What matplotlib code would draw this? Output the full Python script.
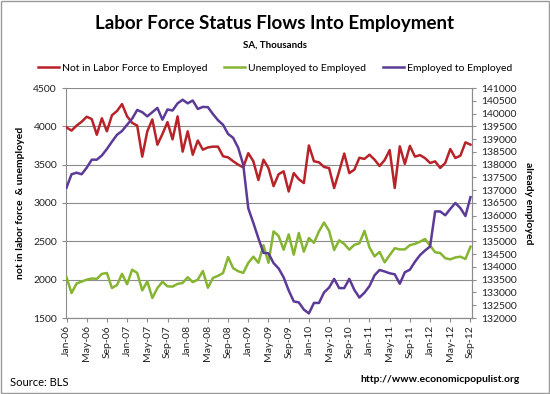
import matplotlib
matplotlib.use("Agg")
import matplotlib.pyplot as plt
from matplotlib.patches import Rectangle
import numpy as np

plt.rcParams['font.family'] = ['Lato', 'DejaVu Sans']

# Monthly, Jan-06 .. Sep-12 (81 months)
tick_labels = ['Jan-06', 'May-06', 'Sep-06', 'Jan-07', 'May-07', 'Sep-07', 'Jan-08',
               'May-08', 'Sep-08', 'Jan-09', 'May-09', 'Sep-09', 'Jan-10', 'May-10',
               'Sep-10', 'Jan-11', 'May-11', 'Sep-11', 'Jan-12', 'May-12', 'Sep-12']

not_in_lf = [3985, 3945, 4010, 4060, 4125, 4095, 3890, 4105, 3935, 4145,
             4200, 4290, 4130, 4045, 4010, 3605, 3935, 4090, 3760, 3900,
             4055, 3830, 4130, 3670, 3935, 3630, 3815, 3695, 3725, 3735,
             3735, 3610, 3595, 3545, 3500, 3465, 3650, 3545, 3300, 3565,
             3455, 3220, 3375, 3413, 3150, 3390, 3310, 3260, 3750, 3545,
             3530, 3470, 3455, 3195, 3415, 3645, 3390, 3435, 3590, 3575,
             3630, 3565, 3483, 3560, 3690, 3196, 3739, 3510, 3745, 3605,
             3625, 3585, 3522, 3543, 3457, 3522, 3704, 3587, 3617, 3791,
             3761]

unemployed = [2030, 1826, 1950, 1975, 2000, 2015, 2010, 2075, 2087, 1891,
              1930, 2076, 1940, 2130, 2087, 1860, 1978, 1761, 1891, 1972,
              1913, 1910, 1945, 1957, 2032, 1968, 2000, 2113, 1895, 2022,
              2050, 2087, 2295, 2150, 2110, 2088, 2220, 2300, 2220, 2450,
              2220, 2630, 2570, 2390, 2590, 2326, 2609, 2365, 2543, 2480,
              2630, 2745, 2637, 2387, 2513, 2465, 2391, 2455, 2474, 2637,
              2420, 2304, 2362, 2226, 2320, 2410, 2395, 2395, 2450, 2467,
              2495, 2530, 2445, 2357, 2348, 2280, 2265, 2290, 2300, 2270,
              2430]

employed = [137100, 137625, 137685, 137625, 137880, 138195, 138195, 138360, 138615, 138900,
            139170, 139320, 139560, 139800, 140140, 140055, 139890, 140055, 140220, 139760,
            140160, 140120, 140400, 140540, 140400, 140510, 140180, 140260, 140250, 139980,
            139740, 139560, 139200, 139050, 138660, 138000, 136290, 135720, 135120, 134550,
            134530, 134150, 133940, 133590, 133080, 132650, 132610, 132330, 132180, 132590,
            132590, 133000, 133190, 133530, 133170, 133170, 133530, 133100, 132800, 132990,
            133250, 133670, 133880, 133820, 133750, 133710, 133340, 133790, 133890, 134200,
            134460, 134640, 134800, 136170, 136170, 136020, 136270, 136500, 136300, 135990,
            136730]

RED = '#B8232A'
GREEN = '#86B532'
PURPLE = '#5B3A98'
GRID = '#8C8C8C'

fig = plt.figure(figsize=(5.5, 3.94), dpi=100)
fig.patches.append(Rectangle((0.002, 0.002), 0.996, 0.996, transform=fig.transFigure,
                             fill=False, edgecolor='#9A9A9A', linewidth=1.0))

ax = fig.add_axes([66/550, 1-318/394, (472-66)/550, 230/394])
ax2 = ax.twinx()

x = np.arange(len(not_in_lf))
ax.plot(x, not_in_lf, color=RED, lw=1.8, label='Not in Labor Force to Employed', zorder=3)
ax.plot(x, unemployed, color=GREEN, lw=1.8, label='Unemployed to Employed', zorder=3)
ax2.plot(x, employed, color=PURPLE, lw=1.8, label='Employed to Employed', zorder=3)

ax.set_ylim(1500, 4500)
ax.set_yticks(np.arange(1500, 4501, 500))
ax2.set_ylim(132000, 141000)
ax2.set_yticks(np.arange(132000, 141001, 500))
ax.set_xlim(-0.1, 80.3)
ax.set_xticks(np.arange(0, 81, 4))
ax.set_xticklabels(tick_labels, rotation=90)

ax.yaxis.grid(True, color=GRID, lw=0.8)
ax.set_axisbelow(True)

for a in (ax, ax2):
    for s in a.spines.values():
        s.set_color(GRID)
        s.set_linewidth(0.8)
    a.spines['top'].set_visible(False)
    a.tick_params(colors=GRID, labelcolor='#222222', labelsize=7.5, length=3, width=0.8)
ax2.spines['left'].set_visible(False)
ax.tick_params(axis='x', pad=2)

ax.set_ylabel('not in labor force  & unemployed', fontsize=7.5, fontweight='bold', labelpad=6)
ax2.set_ylabel('already employed', fontsize=7.5, fontweight='bold', rotation=-90, labelpad=12)

fig.text(0.5, 1-24/394, 'Labor Force Status Flows Into Employment', ha='center', va='center',
         fontsize=13.5, fontweight='bold')
fig.text(0.5, 1-45/394, 'SA, Thousands', ha='center', va='center', fontsize=7, fontweight='bold')

h1, l1 = ax.get_legend_handles_labels()
h2, l2 = ax2.get_legend_handles_labels()
fig.legend(h1 + h2, l1 + l2, loc='center', bbox_to_anchor=(0.5, 1-68/394), ncol=3,
           frameon=False, fontsize=7.5, handlelength=2.0, handletextpad=0.3, columnspacing=1.6)

fig.text(10/550, 1-383/394, 'Source: BLS', ha='left', va='center', fontsize=8)
fig.text(520/550, 1-380/394, 'http://www.economicpopulist.org', ha='right', va='center',
         fontsize=7.5, fontweight='bold')

fig.savefig('out.png', dpi=100)
